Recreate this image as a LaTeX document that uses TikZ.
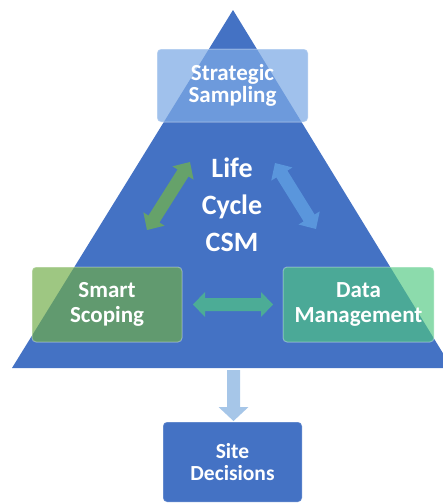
\documentclass[tikz,border=0pt]{standalone}
\usepackage{fontspec}
\setmainfont{Carlito}
\usetikzlibrary{calc}
\definecolor{tri}{HTML}{4472C4}
\definecolor{sboxc}{RGB}{125,170,229}
\definecolor{gboxc}{RGB}{112,173,71}
\definecolor{tboxc}{RGB}{79,200,128}
\definecolor{garr}{RGB}{102,162,106}
\definecolor{barr}{RGB}{90,150,220}
\definecolor{tarr}{RGB}{76,172,150}
\definecolor{darr}{RGB}{166,198,232}
\newcommand\dblarrow[6]{% style, from, to, shaft half, head half, head length
  \fill[#1] let \p1=(#2), \p2=(#3), \n1={atan2(\y2-\y1,\x2-\x1)}, \n2={veclen(\x2-\x1,\y2-\y1)} in
  {[shift={(\p1)}, rotate=\n1]
   (0pt,0pt) -- ({#6*1pt},{#5*1pt}) -- ({#6*1pt},{#4*1pt}) -- ({(\n2-#6)*1pt},{#4*1pt})
   -- ({(\n2-#6)*1pt},{#5*1pt}) -- ({\n2*1pt},0pt) -- ({(\n2-#6)*1pt},{-#5*1pt})
   -- ({(\n2-#6)*1pt},{-#4*1pt}) -- ({#6*1pt},{-#4*1pt}) -- ({#6*1pt},{-#5*1pt}) -- cycle};
}
\newcommand\sglarrow[6]{% style, from, to, shaft half, head half, head length
  \fill[#1] let \p1=(#2), \p2=(#3), \n1={atan2(\y2-\y1,\x2-\x1)}, \n2={veclen(\x2-\x1,\y2-\y1)} in
  {[shift={(\p1)}, rotate=\n1]
   (0pt,{#4*1pt}) -- ({(\n2-#6)*1pt},{#4*1pt})
   -- ({(\n2-#6)*1pt},{#5*1pt}) -- ({\n2*1pt},0pt) -- ({(\n2-#6)*1pt},{-#5*1pt})
   -- ({(\n2-#6)*1pt},{-#4*1pt}) -- (0pt,{-#4*1pt}) -- cycle};
}
\tikzset{
  box/.style={rounded corners=4pt, draw=white, draw opacity=0.35, line width=1pt,
    text=white, text opacity=1, align=center, inner sep=0pt,
    font=\fontsize{23}{25}\selectfont\bfseries},
}
\begin{document}
\begin{tikzpicture}[x=1pt,y=-1pt]
\useasboundingbox (0,0) rectangle (443,504);
% pyramid
\begin{scope}
  \clip (0,0) rectangle (443,504);
  \fill[tri] (233,10) -- (12,368) -- (452,368) -- cycle;
\end{scope}
% boxes
\node[box, fill=sboxc, fill opacity=0.73, minimum width=151pt, minimum height=73pt,
  font=\fontsize{23}{22.5}\selectfont\bfseries] (ss) at (232.5,85.5) {Strategic\\Sampling};
\node[box, fill=gboxc, fill opacity=0.68, minimum width=150pt, minimum height=75pt] (sc) at (107,304.5) {Smart\\Scoping};
\node[box, fill=tboxc, fill opacity=0.65, minimum width=151pt, minimum height=75pt] (dm) at (358.5,304.5) {Data\\Management};
\node[box, fill=tri, draw=white, draw opacity=0.25, minimum width=139pt, minimum height=80pt,
  font=\fontsize{21.5}{22}\selectfont\bfseries] (sd) at (232.5,462) {Site\\Decisions};
\node[text=white, align=center, inner sep=0pt, font=\fontsize{28}{37}\selectfont\bfseries] (lc) at (232,205) {Life\\Cycle\\CSM};
% arrow end points
\coordinate (gA) at (147,230);
\coordinate (gB) at (190,162);
\coordinate (bA) at (275,163);
\coordinate (bB) at (316,229);
\coordinate (hA) at (193,304.5);
\coordinate (hB) at (273,304.5);
\coordinate (dA) at (233.5,370);
\coordinate (dB) at (233.5,421);
\dblarrow{garr}{gA}{gB}{6.5}{12.5}{13}
\dblarrow{barr}{bA}{bB}{6.5}{12.5}{13}
\dblarrow{tarr}{hA}{hB}{6.5}{12.5}{12}
\sglarrow{darr}{dA}{dB}{6.5}{15}{14}
\end{tikzpicture}
\end{document}
